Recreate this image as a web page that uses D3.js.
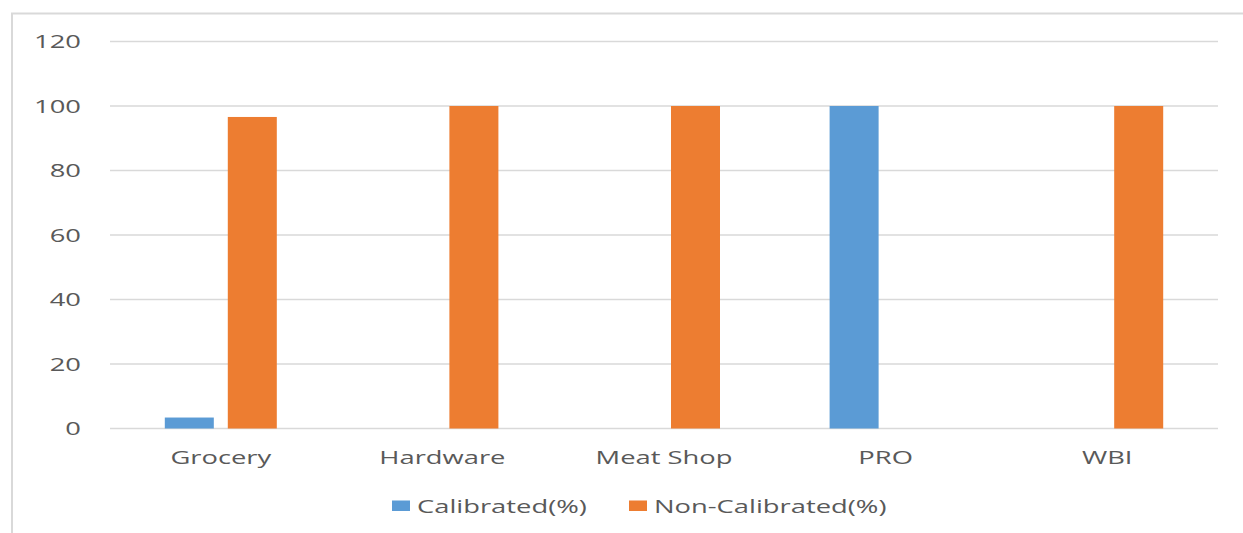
<!DOCTYPE html>
<html>
<head>
<meta charset="utf-8">
<script src="https://cdn.jsdelivr.net/npm/d3@7"></script>
<style>
  body { margin: 0; background: #fff; }
  text { font-family: "Open Sans", sans-serif; fill: #595959; }
</style>
</head>
<body>
<script>
// data
const categories = ["Grocery", "Hardware", "Meat Shop", "PRO", "WBI"];
const seriesNames = ["Calibrated(%)", "Non-Calibrated(%)"];
const calibrated = [3.4, 0, 0, 100, 0];
const nonCalibrated = [96.6, 100, 100, 0, 100];
const yTicks = [0, 20, 40, 60, 80, 100, 120];

const colors = ["#5B9BD5", "#ED7D31"];
const width = 1243, height = 533;
const stretch = 1.52; // text in the picture is drawn wide

const svg = d3.select("body").append("svg")
    .attr("width", width)
    .attr("height", height);

// chart frame
svg.append("rect")
    .attr("x", 12).attr("y", 13.5)
    .attr("width", width).attr("height", height)
    .style("fill", "none")
    .style("stroke", "#d9d9d9")
    .style("stroke-width", 2);

const x0 = d3.scaleBand()
    .domain(categories)
    .range([110, 1218]);

const x1 = d3.scaleBand()
    .domain(seriesNames)
    .range([x0.bandwidth() / 2 - 56, x0.bandwidth() / 2 + 56])
    .paddingInner(0.222);

const y = d3.scaleLinear()
    .domain([0, 120])
    .range([428.5, 41.5]);

// gridlines
svg.selectAll("line.grid")
    .data(yTicks)
    .enter()
    .append("line")
    .attr("class", "grid")
    .attr("x1", 110).attr("x2", 1218)
    .attr("y1", d => y(d)).attr("y2", d => y(d))
    .style("stroke", "#d9d9d9")
    .style("stroke-width", 1.5);

// y labels
svg.selectAll("text.ytick")
    .data(yTicks)
    .enter()
    .append("text")
    .attr("class", "ytick")
    .attr("transform", d => `translate(81,${y(d) + 6.5}) scale(${stretch},1)`)
    .attr("text-anchor", "end")
    .style("font-size", "18px")
    .text(d => d);

// bars
const rows = categories.map((c, i) => ({cat: c, vals: [calibrated[i], nonCalibrated[i]]}));

const groups = svg.selectAll("g.cat")
    .data(rows)
    .enter()
    .append("g")
    .attr("class", "cat")
    .attr("transform", d => `translate(${x0(d.cat)},0)`);

groups.selectAll("rect")
    .data(d => d.vals.map((v, j) => ({name: seriesNames[j], v: v, j: j})))
    .enter()
    .append("rect")
    .attr("x", d => x1(d.name))
    .attr("width", x1.bandwidth())
    .attr("y", d => y(d.v))
    .attr("height", d => y(0) - y(d.v))
    .style("fill", d => colors[d.j]);

// category labels
svg.selectAll("text.xtick")
    .data(categories)
    .enter()
    .append("text")
    .attr("class", "xtick")
    .attr("transform", d => `translate(${x0(d) + x0.bandwidth() / 2},464) scale(${stretch},1)`)
    .attr("text-anchor", "middle")
    .style("font-size", "18px")
    .text(d => d);

// legend
const legendX = [392, 629];
const legend = svg.selectAll("g.legend")
    .data(seriesNames)
    .enter()
    .append("g")
    .attr("class", "legend")
    .attr("transform", (d, i) => `translate(${legendX[i]},500.5)`);

legend.append("rect")
    .attr("width", 18).attr("height", 10.5)
    .style("fill", (d, i) => colors[i]);

legend.append("text")
    .attr("transform", `translate(25,12) scale(${stretch},1)`)
    .style("font-size", "18px")
    .text(d => d);
</script>
</body>
</html>
